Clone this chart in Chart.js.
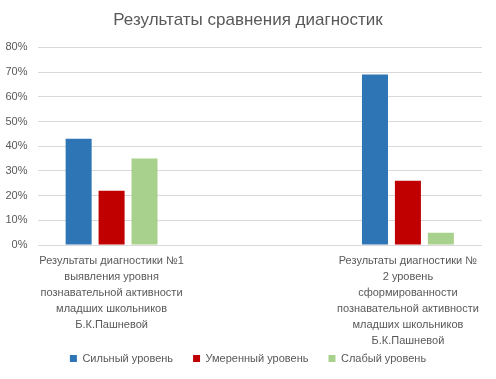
<!DOCTYPE html>
<html>
<head>
<meta charset="utf-8">
<script src="https://cdn.jsdelivr.net/npm/chart.js@4"></script>
<style>
html,body{margin:0;padding:0;background:#fff;}
#wrap{width:496px;height:379px;position:relative;}
</style>
</head>
<body>
<div id="wrap"><canvas id="c" width="496" height="379"></canvas></div>
<script>
const title = "Результаты сравнения диагностик";
const categories = [
  ["Результаты диагностики №1", "выявления уровня", "познавательной активности", "младших школьников", "Б.К.Пашневой"],
  [""],
  ["Результаты диагностики №", "2 уровень", "сформированности", "познавательной активности", "младших школьников", "Б.К.Пашневой"]
];
const seriesNames = ["Сильный уровень", "Умеренный уровень", "Слабый уровень"];
const strong = [43, null, 69];
const moderate = [22, null, 26];
const weak = [35, null, 5];
const yTicks = [0, 10, 20, 30, 40, 50, 60, 70, 80];

const colors = ["#2E75B6", "#C00000", "#A9D18E"];
const FONT = "'Liberation Sans', Arial, sans-serif";
const TXT = "#595959";

new Chart(document.getElementById('c'), {
  type: 'bar',
  data: {
    labels: categories,
    datasets: [strong, moderate, weak].map((d, i) => ({
      label: seriesNames[i],
      data: d,
      backgroundColor: colors[i],
      borderWidth: 0,
      categoryPercentage: 0.667,
      barPercentage: 0.79
    }))
  },
  options: {
    responsive: false,
    animation: false,
    devicePixelRatio: 1,
    layout: { padding: { left: 14, right: 14, top: 0, bottom: 5 } },
    plugins: {
      title: {
        display: true,
        text: title,
        color: TXT,
        font: { family: FONT, size: 17, weight: 'normal' },
        padding: { top: 10, bottom: 17 }
      },
      legend: {
        position: 'bottom',
        labels: {
          color: TXT,
          font: { family: FONT, size: 11 },
          boxWidth: 7,
          boxHeight: 7,
          padding: 20
        }
      },
      tooltip: { enabled: false }
    },
    scales: {
      y: {
        min: 0, max: 80,
        afterBuildTicks: (s) => { s.ticks = yTicks.map(v => ({ value: v })); },
        afterFit: (s) => { s.width = 23.5; s._computeLabelArea = () => undefined; },
        ticks: {
          color: TXT,
          font: { family: FONT, size: 11 },
          padding: 10,
          callback: (v) => v + '%'
        },
        grid: { color: '#D9D9D9', drawTicks: false, lineWidth: 1 },
        border: { display: false }
      },
      x: {
        afterFit: (s) => { s.height = 88; s._computeLabelArea = () => undefined; },
        ticks: {
          color: TXT,
          font: { family: FONT, size: 11, lineHeight: 1.45 },
          padding: 0,
          maxRotation: 0,
          autoSkip: false
        },
        grid: { display: false },
        border: { display: false }
      }
    }
  }
});
</script>
</body>
</html>
